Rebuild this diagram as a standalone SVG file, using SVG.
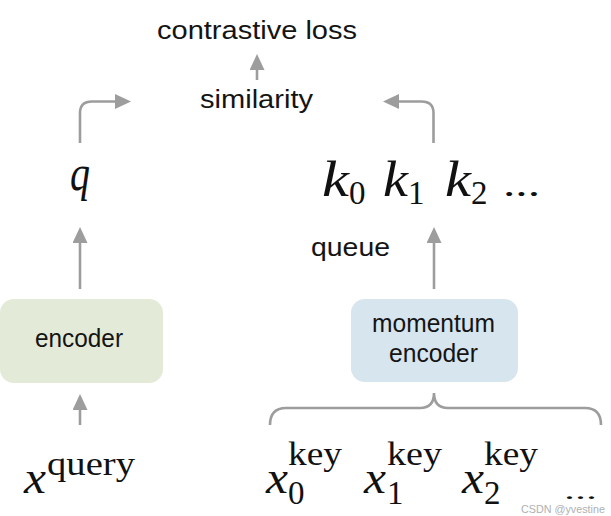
<svg xmlns="http://www.w3.org/2000/svg" width="611" height="516" viewBox="0 0 611 516">
<defs>
<style>
.lbl{font-family:"Liberation Sans",Arial,sans-serif;font-size:25px;fill:#141414}
.mi{font-family:"Liberation Serif","Times New Roman",serif;font-style:italic;fill:#111}
.mr{font-family:"Liberation Serif","Times New Roman",serif;fill:#111}
.conn{stroke:#9d9d9d;stroke-width:2.6;fill:none}
.wm{font-family:"Liberation Sans",Arial,sans-serif;font-size:11px;fill:#b0b0b0}
</style>
<marker id="ah" markerUnits="userSpaceOnUse" markerWidth="16" markerHeight="15" refX="3" refY="7.5" orient="auto">
<path d="M0,0 L16,7.5 L0,15 Z" fill="#9d9d9d"/>
</marker>
</defs>
<rect width="611" height="516" fill="#ffffff"/>

<g id="connectors">
<path class="conn" d="M257,80 V67" marker-end="url(#ah)"/>
<path class="conn" d="M80,143 V113 Q80,101.5 92,101.5 H118" marker-end="url(#ah)"/>
<path class="conn" d="M433.5,143 V113 Q433.5,101.5 421.5,101.5 H396" marker-end="url(#ah)"/>
<path class="conn" d="M80,289 V240" marker-end="url(#ah)"/>
<path class="conn" d="M434,289 V240" marker-end="url(#ah)"/>
<path class="conn" d="M80,425 V407" marker-end="url(#ah)"/>
<path class="conn" d="M270,425 Q270,408 286,408 H420 Q434,408 434,393 Q434,408 448,408 H585 Q601,408 601,425"/>
</g>

<g id="contrastive-loss">
<text class="lbl" x="157" y="39" textLength="200" lengthAdjust="spacingAndGlyphs">contrastive loss</text>
</g>
<g id="similarity">
<text class="lbl" x="200" y="108" textLength="113" lengthAdjust="spacingAndGlyphs">similarity</text>
</g>
<g id="q">
<text class="mi" x="70" y="190" font-size="50" textLength="20" lengthAdjust="spacingAndGlyphs">q</text>
</g>
<g id="keys">
<text class="mi" x="322" y="196" font-size="50" textLength="27" lengthAdjust="spacingAndGlyphs">k</text>
<text class="mr" x="349" y="204" font-size="33">0</text>
<text class="mi" x="383" y="196" font-size="50" textLength="25" lengthAdjust="spacingAndGlyphs">k</text>
<text class="mr" x="408" y="204" font-size="33">1</text>
<text class="mi" x="445" y="196" font-size="50" textLength="26" lengthAdjust="spacingAndGlyphs">k</text>
<text class="mr" x="471" y="204" font-size="33">2</text>
<text class="mr" x="503" y="196" font-size="33" textLength="37" lengthAdjust="spacingAndGlyphs">...</text>
</g>
<g id="queue">
<text class="lbl" x="311" y="256" textLength="79" lengthAdjust="spacingAndGlyphs">queue</text>
</g>
<g id="encoder">
<rect x="0" y="299" width="163" height="84" rx="14" fill="#e3ebd8"/>
<text class="lbl" x="35" y="347" textLength="88" lengthAdjust="spacingAndGlyphs">encoder</text>
</g>
<g id="momentum-encoder">
<rect x="351" y="299" width="167" height="83" rx="14" fill="#d7e5ef"/>
<text class="lbl" x="372" y="332" textLength="123" lengthAdjust="spacingAndGlyphs">momentum</text>
<text class="lbl" x="389" y="362" textLength="89" lengthAdjust="spacingAndGlyphs">encoder</text>
</g>
<g id="x-query">
<text class="mi" x="24" y="493" font-size="46" textLength="22" lengthAdjust="spacingAndGlyphs">x</text>
<text class="mr" x="47" y="475" font-size="34" textLength="88" lengthAdjust="spacingAndGlyphs">query</text>
</g>
<g id="x-keys">
<text class="mi" x="266" y="493" font-size="46" textLength="22" lengthAdjust="spacingAndGlyphs">x</text>
<text class="mr" x="288" y="465" font-size="34" textLength="54" lengthAdjust="spacingAndGlyphs">key</text>
<text class="mr" x="288" y="504" font-size="33">0</text>
<text class="mi" x="364" y="493" font-size="46" textLength="22" lengthAdjust="spacingAndGlyphs">x</text>
<text class="mr" x="387" y="465" font-size="34" textLength="55" lengthAdjust="spacingAndGlyphs">key</text>
<text class="mr" x="387" y="504" font-size="33">1</text>
<text class="mi" x="462" y="493" font-size="46" textLength="22" lengthAdjust="spacingAndGlyphs">x</text>
<text class="mr" x="484" y="465" font-size="34" textLength="54" lengthAdjust="spacingAndGlyphs">key</text>
<text class="mr" x="484" y="504" font-size="33">2</text>
<text class="mr" x="564" y="499" font-size="24" textLength="33" lengthAdjust="spacingAndGlyphs">...</text>
</g>
<text class="wm" x="521" y="513" textLength="84" lengthAdjust="spacingAndGlyphs">CSDN @yvestine</text>
</svg>
